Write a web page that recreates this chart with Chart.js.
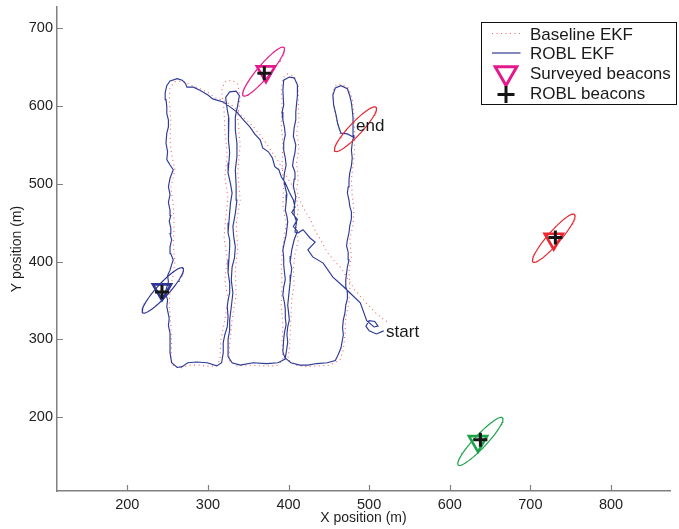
<!DOCTYPE html>
<html>
<head>
<meta charset="utf-8">
<script src="https://cdn.jsdelivr.net/npm/chart.js@4.4.0/dist/chart.umd.min.js"></script>
<style>
  html, body { margin: 0; padding: 0; background: #fff; }
  #wrap { width: 679px; height: 529px; position: relative; }
</style>
</head>
<body>
<div id="wrap"><canvas id="c" width="679" height="529"></canvas></div>
<script>
// Axis ranges and tick values (m)
const xRange = [112.8, 873.2];
const yRange = [105.3, 727.0];
const xTicks = [200, 300, 400, 500, 600, 700, 800];
const yTicks = [200, 300, 400, 500, 600, 700];

// ROBL EKF vehicle track (m), one line per leg of the survey
const roblX = [
  518,509,500,496,500,507,511,506,497,489,476,468,455,443,430,424,433,427,418,412,408,
  410,407,407,409,406,407,408,405,406,408,409,406,407,409,409,410,411,411,407,401,394,393,
  394,392,393,395,396,394,394,396,397,395,394,396,398,397,396,398,399,397,395,393,394,394,395,396,394,393,395,396,396,397,395,394,393,396,
  387,373,356,340,330,325,
  325,327,327,329,331,329,330,333,334,332,331,334,336,335,334,336,336,334,334,337,339,335,327,322,
  324,326,325,326,327,326,325,328,330,328,327,326,325,327,327,326,325,327,327,325,324,325,324,321,319,319,317,
  311,299,286,275,268,262,255,253,
  253,251,252,249,250,247,249,251,250,253,255,257,254,253,255,253,254,252,254,253,251,253,251,253,257,253,249,250,248,249,251,251,249,249,248,247,249,253,262,268,272,274,282,290,300,306,319,327,
  336,344,352,358,365,368,375,380,383,388,391,396,401,
  406,408,404,411,406,411,407,404,403,402,404,403,402,401,400,399,400,401,399,398,399,398,396,
  403,414,424,435,448,458,461,
  465,468,467,468,470,471,473,473,471,471,472,473,475,474,472,473,475,476,478,478,476,475,473,474,475,476,478,479,478,479,481,480,480,479,478,476,473,465,458,455,456,459,461,465,473,482];
const roblY = [
  311,307,311,317,324,323,317,316,324,347,360,368,380,398,406,415,425,430,441,437,438,
  451,460,470,483,497,506,515,523,531,540,550,561,572,582,592,603,613,627,636,637,633,620,
  601,592,582,572,563,553,543,533,524,514,505,495,486,476,466,458,451,434,425,415,405,396,386,377,367,357,347,338,328,319,309,300,284,275,
  270,269,270,267,270,278,
  300,312,325,342,360,376,393,405,419,432,445,462,479,498,518,535,552,569,586,601,613,619,618,611,
  595,584,573,556,540,527,514,500,488,475,463,450,437,428,419,402,386,373,360,350,342,329,316,306,296,283,270,
  266,270,271,270,265,264,270,283,
  308,318,327,342,351,360,367,374,382,389,396,402,410,419,428,436,443,452,459,466,476,486,496,507,518,524,531,541,552,565,573,582,590,599,608,617,626,632,635,633,629,624,624,620,614,609,605,599,
  592,582,573,564,556,546,541,533,522,518,509,501,489,
  479,470,463,454,445,439,428,415,407,400,391,383,373,364,354,344,335,325,316,306,297,289,276,
  270,267,267,269,270,273,279,
  289,306,315,325,334,344,352,360,368,377,385,393,402,412,420,428,437,446,455,464,471,479,488,496,505,514,523,533,543,552,562,573,585,595,604,613,622,626,623,614,601,588,577,565,564,559];

// Baseline EKF vehicle track (m)
const baseX = [
  522,515,507,500,491,482,474,465,456,448,442,434,427,420,414,410,
  412,410,413,410,413,412,412,407,399,393,391,
  392,391,393,392,394,393,397,393,391,392,391,393,392,393,
  385,367,350,335,326,
  327,330,335,334,337,335,340,337,340,337,340,337,330,321,317,
  320,321,324,321,325,322,320,324,321,325,321,316,315,312,
  303,290,278,265,257,254,
  255,254,252,253,257,259,257,258,257,254,259,255,253,254,252,253,259,269,278,288,299,310,321,331,
  342,353,363,371,378,386,393,399,404,
  409,412,409,412,408,406,407,404,403,402,401,399,
  408,420,437,451,464,
  468,470,471,475,476,475,478,476,480,481,479,478,480,482,482,481,479,474,466,459,455,456,459,463,466];
const baseY = [
  323,328,335,343,353,364,377,392,402,412,424,438,454,466,479,492,
  507,527,546,565,585,608,626,638,641,636,623,
  601,576,550,524,499,473,447,421,396,370,344,319,296,274,
  266,266,267,266,273,
  293,325,357,389,418,447,479,515,550,585,610,628,633,631,620,
  595,569,537,509,482,456,430,405,376,351,325,299,276,267,
  265,267,267,263,266,276,
  293,319,344,364,383,400,421,447,473,495,518,537,556,582,608,623,631,632,627,623,618,610,606,600,
  587,577,565,554,543,531,518,507,499,
  486,466,447,428,409,389,370,351,328,306,287,274,
  267,265,266,267,274,
  287,306,328,348,366,387,407,428,447,466,486,505,524,543,567,588,610,623,628,627,618,601,585,569,556];

// Surveyed beacon positions and ROBL beacon estimates (m)
const surveyedX = [372, 729, 635, 243];
const surveyedY = [644, 429, 169, 364];
const roblBeaconX = [370, 731, 638, 243];
const roblBeaconY = [642, 431, 171, 361];
const beaconColors = ['#e4198c', '#ea2630', '#1ea24c', '#2e3594'];

// Uncertainty ellipses: centre, semi-axes (m) and orientation (deg); the last one sits at the track end
const ellCx = [369, 729, 638, 244, 483];
const ellCy = [644, 430, 169, 363, 570];
const ellA = [40, 40, 41, 38, 38];
const ellB = [8, 8, 8, 8, 8];
const ellAngle = [51, 50, 48, 49, 48];
const ellColors = ['#e4198c', '#ea2630', '#1ea24c', '#2e3594', '#ea2630'];

// Track annotations
const noteText = ['start', 'end'];
const noteX = [521, 483.7];
const noteY = [303.3, 567.1];

const FONT = "'Liberation Sans', Arial, Helvetica, sans-serif";
const toPts = (xs, ys) => xs.map((x, i) => ({ x, y: ys[i] }));

function ellipsePts(i) {
  const th = ellAngle[i] * Math.PI / 180, c = Math.cos(th), s = Math.sin(th);
  const pts = [];
  for (let k = 0; k <= 90; k++) {
    const t = k / 90 * 2 * Math.PI;
    const u = ellA[i] * Math.cos(t), v = ellB[i] * Math.sin(t);
    pts.push({ x: ellCx[i] + u * c - v * s, y: ellCy[i] + u * s + v * c });
  }
  return pts;
}

const baseColor = 'rgba(238,50,50,0.75)';
const roblColor = '#2d3a96';

const datasets = [
  { label: 'Baseline EKF', data: toPts(baseX, baseY), showLine: true, borderColor: baseColor,
    borderWidth: 1.1, borderDash: [1, 3.5], pointRadius: 0, tension: 0, order: 5 },
  { label: 'ROBL EKF', data: toPts(roblX, roblY), showLine: true, borderColor: roblColor,
    borderWidth: 1.15, pointRadius: 0, tension: 0, order: 4 }
];
ellCx.forEach((_, i) => datasets.push({
  label: 'ellipse' + i, data: ellipsePts(i), showLine: true, borderColor: ellColors[i],
  borderWidth: 1.2, pointRadius: 0, tension: 0, order: 3
}));
datasets.push({
  label: 'Surveyed beacons', data: toPts(surveyedX, surveyedY), showLine: false,
  pointStyle: 'triangle', pointRotation: 180, pointRadius: 10.5, pointBorderWidth: 2.6,
  pointBorderColor: beaconColors, pointBackgroundColor: 'rgba(0,0,0,0)', order: 2
});
datasets.push({
  label: 'ROBL beacons', data: toPts(roblBeaconX, roblBeaconY), showLine: false,
  pointStyle: 'cross', pointRadius: 7, pointBorderWidth: 3,
  pointBorderColor: '#151515', pointBackgroundColor: '#151515', order: 1
});

// tick marks drawn on the inside of both axes
const innerTicks = {
  id: 'innerTicks',
  afterDraw(chart) {
    const { ctx, chartArea: a, scales: { x, y } } = chart;
    ctx.save();
    ctx.strokeStyle = '#808080';
    ctx.lineWidth = 1.2;
    ctx.beginPath();
    xTicks.forEach(v => { const p = Math.round(x.getPixelForValue(v)) + 0.5; ctx.moveTo(p, a.bottom); ctx.lineTo(p, a.bottom - 6); });
    yTicks.forEach(v => { const p = Math.round(y.getPixelForValue(v)) + 0.5; ctx.moveTo(a.left, p); ctx.lineTo(a.left + 6, p); });
    ctx.stroke();
    ctx.restore();
  }
};

// "start" / "end" notes beside the track
const trackNotes = {
  id: 'trackNotes',
  afterDraw(chart) {
    const { ctx, scales: { x, y } } = chart;
    ctx.save();
    ctx.fillStyle = '#1a1a1a';
    ctx.font = '17px ' + FONT;
    ctx.textAlign = 'left';
    ctx.textBaseline = 'alphabetic';
    noteText.forEach((t, i) => ctx.fillText(t, x.getPixelForValue(noteX[i]), y.getPixelForValue(noteY[i])));
    ctx.restore();
  }
};

// boxed legend in the upper right corner of the plot
const boxLegend = {
  id: 'boxLegend',
  afterDraw(chart) {
    const { ctx, chartArea: a } = chart;
    const left = a.right - 188.5, top = a.top + 15.5, w = 195, h = 82;
    ctx.save();
    ctx.fillStyle = '#fff';
    ctx.fillRect(left, top, w, h);
    ctx.strokeStyle = '#111';
    ctx.lineWidth = 1;
    ctx.strokeRect(left, top, w, h);

    const sx0 = left + 10.5, sx1 = left + 39, sc = left + 24.5;
    ctx.strokeStyle = baseColor;
    ctx.lineWidth = 1.1;
    ctx.setLineDash([1, 3.5]);
    ctx.beginPath(); ctx.moveTo(sx0, top + 11); ctx.lineTo(sx1, top + 11); ctx.stroke();
    ctx.setLineDash([]);
    ctx.strokeStyle = roblColor;
    ctx.lineWidth = 1.2;
    ctx.beginPath(); ctx.moveTo(sx0, top + 30.5); ctx.lineTo(sx1, top + 30.5); ctx.stroke();
    ctx.strokeStyle = beaconColors[0];
    ctx.fillStyle = 'rgba(0,0,0,0)';
    ctx.lineWidth = 3;
    Chart.helpers.drawPoint(ctx, { pointStyle: 'triangle', rotation: 180, radius: 12.5, borderWidth: 3 }, sc, top + 50.5);
    ctx.strokeStyle = '#151515';
    ctx.lineWidth = 3;
    Chart.helpers.drawPoint(ctx, { pointStyle: 'cross', rotation: 0, radius: 8.5, borderWidth: 3 }, sc, top + 72);

    ctx.fillStyle = '#1a1a1a';
    ctx.font = '17px ' + FONT;
    ctx.textAlign = 'left';
    ctx.textBaseline = 'alphabetic';
    const tx = left + 48.5;
    ctx.fillText('Baseline EKF', tx, top + 17);
    ctx.fillText('ROBL EKF', tx, top + 36.8);
    ctx.fillText('Surveyed beacons', tx, top + 56.4);
    ctx.fillText('ROBL beacons', tx, top + 76.8);
    ctx.restore();
  }
};

const tickFont = { family: FONT, size: 14.5 };
const titleFont = { family: FONT, size: 14 };

new Chart(document.getElementById('c'), {
  type: 'scatter',
  data: { datasets },
  plugins: [innerTicks, trackNotes, boxLegend],
  options: {
    responsive: false,
    animation: false,
    events: [],
    layout: { autoPadding: false, padding: { left: 0, right: 9, top: 7, bottom: 0 } },
    plugins: { legend: { display: false }, tooltip: { enabled: false } },
    scales: {
      x: {
        type: 'linear', min: xRange[0], max: xRange[1],
        afterBuildTicks: s => { s.ticks = xTicks.map(v => ({ value: v })); },
        afterFit: s => { s.height = 38; s.paddingLeft = 0; s.paddingRight = 0; },
        grid: { display: true, drawOnChartArea: false, drawTicks: false },
        border: { display: true, color: '#808080', width: 1.5 },
        ticks: { padding: 5, color: '#1e1e1e', font: tickFont, maxRotation: 0, autoSkip: false },
        title: { display: true, text: 'X position (m)', color: '#1e1e1e', font: titleFont, padding: { top: 0, bottom: 2 } }
      },
      y: {
        type: 'linear', min: yRange[0], max: yRange[1],
        afterBuildTicks: s => { s.ticks = yTicks.map(v => ({ value: v })); },
        afterFit: s => { s.width = 57; s.paddingTop = 0; s.paddingBottom = 0; },
        grid: { display: true, drawOnChartArea: false, drawTicks: false },
        border: { display: true, color: '#808080', width: 1.5 },
        ticks: { padding: 4, color: '#1e1e1e', font: tickFont, autoSkip: false },
        title: { display: true, text: 'Y position (m)', color: '#1e1e1e', font: titleFont, padding: { top: 9, bottom: 0 } }
      }
    }
  }
});
</script>
</body>
</html>
